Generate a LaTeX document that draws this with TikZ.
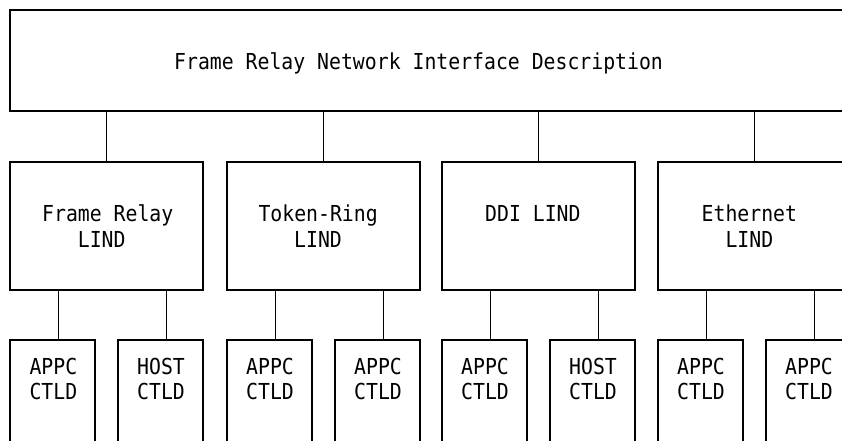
\documentclass[tikz,border=0pt]{standalone}
\usepackage{fontspec}
\newfontfamily\monofont[FakeStretch=0.9]{DejaVu Sans Mono}
\begin{document}
\begin{tikzpicture}[x=1pt,y=-1pt,
  box/.style={draw, line width=1.2pt, anchor=north west, inner sep=0pt, outer sep=0pt},
  lindbox/.style={box, minimum width=193pt, minimum height=128pt},
  ctldbox/.style={box, minimum width=85pt, minimum height=125pt},
  txt/.style={anchor=base west, inner sep=0pt, font=\monofont\fontsize{22}{25}\selectfont},
  link/.style={line width=1.2pt}]
\clip (0,0) rectangle (842,440);
\fill[white] (0,0) rectangle (842,440);

% network interface description (runs off the right edge)
\node[box, minimum width=900pt, minimum height=101pt] (nid) at (10,10) {};
\node[txt] (nidtxt) at (174,69) {Frame Relay Network Interface Description};

% LIND boxes
\node[lindbox] (lfr) at (10,162) {};
\node[lindbox] (ltr) at (227,162) {};
\node[lindbox] (ldd) at (442,162) {};
\node[lindbox] (let) at (658,162) {};

\node[txt] (lfrA) at (42,221.5) {Frame Relay};
\node[txt] (lfrB) at (77.7,247) {LIND};
\node[txt] (ltrA) at (258.3,221.5) {Token-Ring};
\node[txt] (ltrB) at (294,247) {LIND};
\node[txt] (lddA) at (485,221.5) {DDI LIND};
\node[txt] (letA) at (701.5,221.5) {Ethernet};
\node[txt] (letB) at (725.3,247) {LIND};

% CTLD boxes
\foreach \n/\x in {c1a/10, c1b/118, c2a/227, c2b/335, c3a/442, c3b/550, c4a/658, c4b/766}{
  \node[ctldbox] (\n) at (\x,340) {};
  \coordinate (\n p) at ([xshift=48.5pt]\n.north west);
}
\foreach \n/\x/\t in {c1a/29.3/APPC, c1b/137/HOST, c2a/246/APPC, c2b/354/APPC,
                      c3a/461/APPC, c3b/569/HOST, c4a/677/APPC, c4b/785/APPC}{
  \node[txt] (\n t) at (\x,374) {\t};
  \node[txt] (\n u) at (\x,399) {CTLD};
}

% connectors
\foreach \l in {lfr, ltr, ldd, let}{
  \draw[link] (nid.south -| \l.north) -- (\l.north);
}
\foreach \l/\a/\b in {lfr/c1a/c1b, ltr/c2a/c2b, ldd/c3a/c3b, let/c4a/c4b}{
  \draw[link] (\a p |- \l.south) -- (\a p);
  \draw[link] (\b p |- \l.south) -- (\b p);
}
\end{tikzpicture}
\end{document}
